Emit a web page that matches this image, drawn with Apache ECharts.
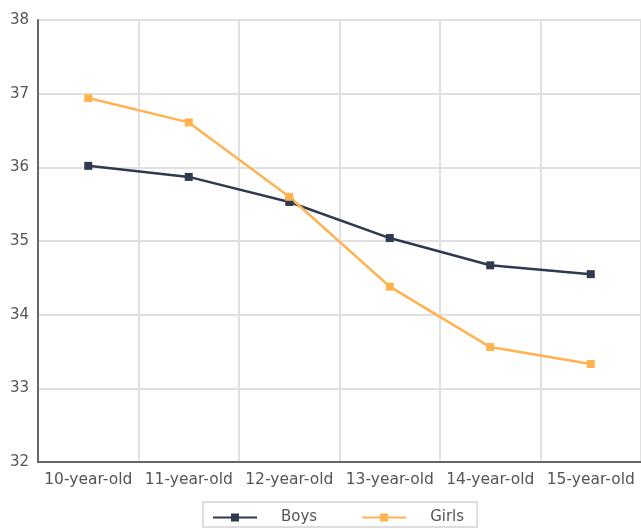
<!DOCTYPE html>
<html><head><meta charset="utf-8">
<script src="https://cdn.jsdelivr.net/npm/echarts@6/dist/echarts.min.js"></script>
<style>html,body{margin:0;padding:0;background:#fff}#c{width:641px;height:529px}</style>
</head><body><div id="c"></div>
<script>
const categories = ['10-year-old','11-year-old','12-year-old','13-year-old','14-year-old','15-year-old'];
const boys = [36.02, 35.87, 35.53, 35.04, 34.67, 34.55];
const girls = [36.94, 36.61, 35.60, 34.38, 33.56, 33.33];
const yTicks = {min: 32, max: 38, interval: 1};
const font = '"DejaVu Sans", Verdana, sans-serif';
const chart = echarts.init(document.getElementById('c'));
chart.setOption({
  animation: false,
  textStyle: {fontFamily: font},
  grid: {left: 38, right: 0, top: 20, bottom: 67, containLabel: false},
  legend: {
    top: 502, left: 203,
    data: ['Boys','Girls'],
    itemWidth: 44, itemHeight: 10, itemGap: 44,
    borderColor: '#dddddd', borderWidth: 2, borderRadius: 0,
    padding: [8, 13, 2, 9],
    textStyle: {fontFamily: font, fontSize: 15, color: '#555', padding: [0, 0, 0, 19]}
  },
  xAxis: {
    type: 'category', data: categories, boundaryGap: true,
    axisLine: {lineStyle: {color: '#666', width: 2}},
    axisTick: {show: false},
    axisLabel: {fontFamily: font, fontSize: 15.5, color: '#555', margin: 10, interval: 0},
    splitLine: {show: true, interval: 0, lineStyle: {color: '#e0e0e0', width: 2}}
  },
  yAxis: {
    type: 'value', min: yTicks.min, max: yTicks.max, interval: yTicks.interval,
    axisLine: {show: true, lineStyle: {color: '#666', width: 2}},
    axisTick: {show: false},
    axisLabel: {fontFamily: font, fontSize: 15, color: '#555', margin: 9},
    splitLine: {show: true, lineStyle: {color: '#e0e0e0', width: 2}}
  },
  series: [
    {name: 'Boys', type: 'line', data: boys, symbol: 'rect', symbolSize: 8,
     itemStyle: {color: '#2f3a4f'}, lineStyle: {color: '#2f3a4f', width: 2.5}},
    {name: 'Girls', type: 'line', data: girls, symbol: 'rect', symbolSize: 8,
     itemStyle: {color: '#ffb24f'}, lineStyle: {color: '#ffb24f', width: 2.5}}
  ]
});
</script></body></html>
